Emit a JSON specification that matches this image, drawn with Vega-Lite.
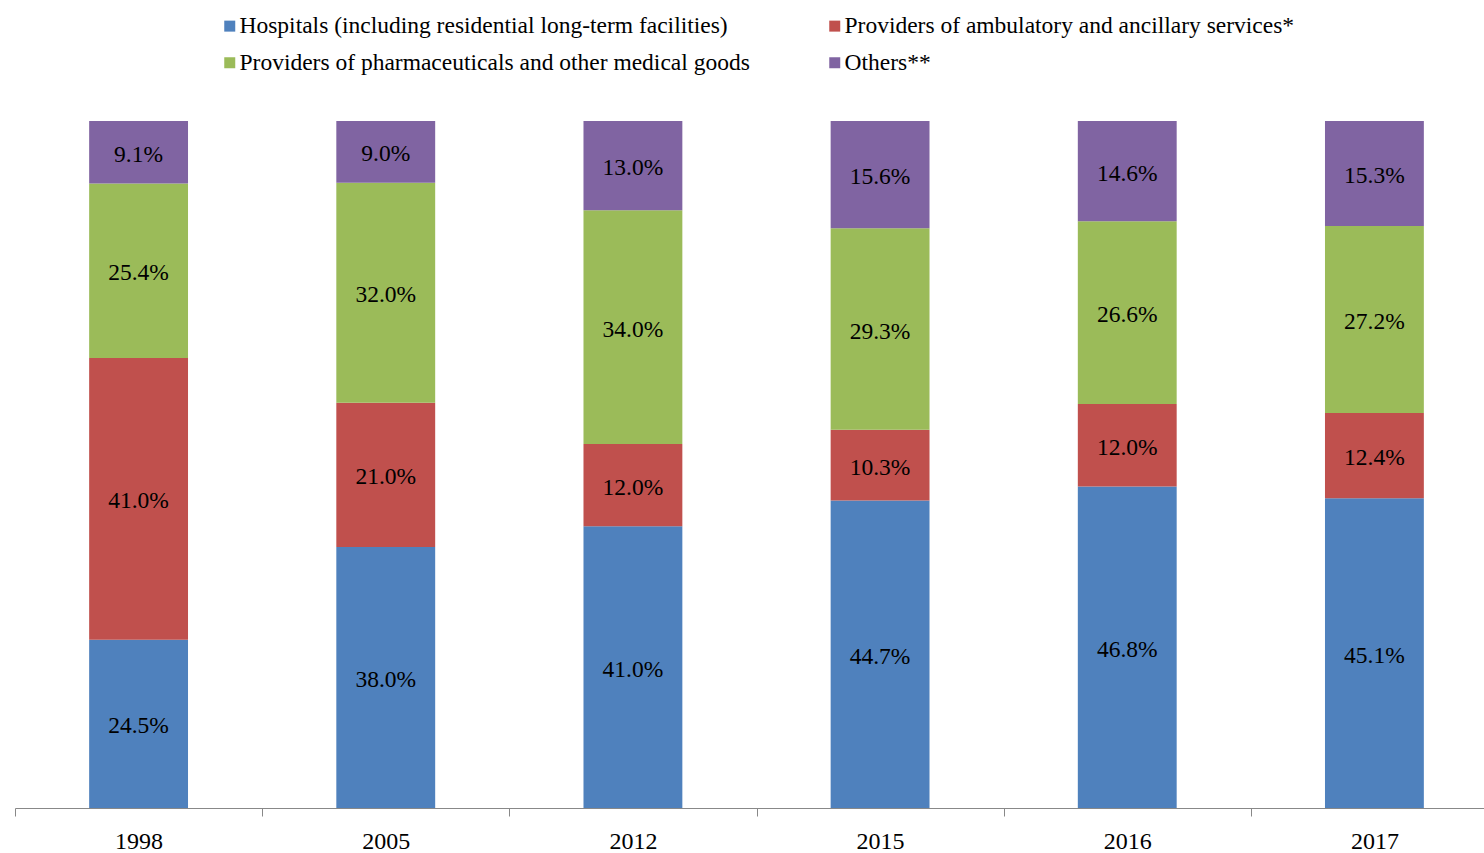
{
  "$schema": "https://vega.github.io/schema/vega-lite/v6.json",
  "autosize": "none",
  "width": 1483,
  "height": 687,
  "padding": {"left": 15, "top": 121, "right": 0, "bottom": 45},
  "background": "white",
  "config": {"view": {"stroke": null}, "font": "Liberation Serif"},
  "datasets": {
    "series": [
      {"category": "Hospitals (including residential long-term facilities)", "rank": 1},
      {"category": "Providers of ambulatory and ancillary services*", "rank": 2},
      {"category": "Providers of pharmaceuticals and other medical goods", "rank": 3},
      {"category": "Others**", "rank": 4}
    ]
  },
  "data": {
    "values": [
      {"year": "1998", "category": "Hospitals (including residential long-term facilities)", "share": 0.245},
      {"year": "1998", "category": "Providers of ambulatory and ancillary services*", "share": 0.41},
      {"year": "1998", "category": "Providers of pharmaceuticals and other medical goods", "share": 0.254},
      {"year": "1998", "category": "Others**", "share": 0.091},
      {"year": "2005", "category": "Hospitals (including residential long-term facilities)", "share": 0.38},
      {"year": "2005", "category": "Providers of ambulatory and ancillary services*", "share": 0.21},
      {"year": "2005", "category": "Providers of pharmaceuticals and other medical goods", "share": 0.32},
      {"year": "2005", "category": "Others**", "share": 0.09},
      {"year": "2012", "category": "Hospitals (including residential long-term facilities)", "share": 0.41},
      {"year": "2012", "category": "Providers of ambulatory and ancillary services*", "share": 0.12},
      {"year": "2012", "category": "Providers of pharmaceuticals and other medical goods", "share": 0.34},
      {"year": "2012", "category": "Others**", "share": 0.13},
      {"year": "2015", "category": "Hospitals (including residential long-term facilities)", "share": 0.447},
      {"year": "2015", "category": "Providers of ambulatory and ancillary services*", "share": 0.103},
      {"year": "2015", "category": "Providers of pharmaceuticals and other medical goods", "share": 0.293},
      {"year": "2015", "category": "Others**", "share": 0.156},
      {"year": "2016", "category": "Hospitals (including residential long-term facilities)", "share": 0.468},
      {"year": "2016", "category": "Providers of ambulatory and ancillary services*", "share": 0.12},
      {"year": "2016", "category": "Providers of pharmaceuticals and other medical goods", "share": 0.266},
      {"year": "2016", "category": "Others**", "share": 0.146},
      {"year": "2017", "category": "Hospitals (including residential long-term facilities)", "share": 0.451},
      {"year": "2017", "category": "Providers of ambulatory and ancillary services*", "share": 0.124},
      {"year": "2017", "category": "Providers of pharmaceuticals and other medical goods", "share": 0.272},
      {"year": "2017", "category": "Others**", "share": 0.153}
    ]
  },
  "transform": [
    {"lookup": "category", "from": {"data": {"name": "series"}, "key": "category", "fields": ["rank"]}},
    {"stack": "share", "groupby": ["year"], "sort": [{"field": "rank", "order": "ascending"}], "offset": "normalize", "as": ["y0", "y1"]}
  ],
  "layer": [
    {
      "mark": {"type": "bar", "width": {"band": 0.4}},
      "encoding": {
        "x": {
          "field": "year", "type": "nominal",
          "scale": {"paddingInner": 0, "paddingOuter": 0},
          "axis": {
            "title": null, "tickBand": "extent", "labelAngle": 0,
            "domainColor": "#888888", "tickColor": "#888888", "tickSize": 8,
            "domainWidth": 1, "tickWidth": 1, "grid": false,
            "labelFontSize": 24, "labelFont": "Liberation Serif", "labelColor": "black", "labelPadding": 13
          }
        },
        "y": {"field": "y0", "type": "quantitative", "scale": {"domain": [0, 1]}, "axis": null},
        "y2": {"field": "y1"},
        "color": {
          "field": "category", "type": "nominal",
          "scale": {
            "domain": [
              "Hospitals (including residential long-term facilities)",
              "Providers of ambulatory and ancillary services*",
              "Providers of pharmaceuticals and other medical goods",
              "Others**"
            ],
            "range": ["#4F81BD", "#C0504D", "#9BBB59", "#8064A2"]
          },
          "legend": {
            "title": null, "orient": "none", "direction": "horizontal", "legendX": 203, "legendY": -107,
            "columns": 2, "columnPadding": 73, "rowPadding": 12,
            "symbolType": "square", "symbolSize": 121, "symbolStrokeWidth": 0, "symbolOpacity": 1,
            "labelFontSize": 23.5, "labelFont": "Liberation Serif", "labelColor": "black",
            "labelLimit": 2000, "labelOffset": -2
          }
        }
      }
    },
    {
      "transform": [
        {"fold": ["y0", "y1"], "as": ["edge", "pos"]},
        {"aggregate": [{"op": "mean", "field": "pos", "as": "mid"}], "groupby": ["year", "category", "share"]}
      ],
      "mark": {"type": "text", "fontSize": 23.5, "font": "Liberation Serif", "baseline": "middle", "color": "black", "dy": 2.5},
      "encoding": {
        "x": {"field": "year", "type": "nominal"},
        "y": {"field": "mid", "type": "quantitative"},
        "text": {"field": "share", "type": "quantitative", "format": ".1%"}
      }
    }
  ]
}
